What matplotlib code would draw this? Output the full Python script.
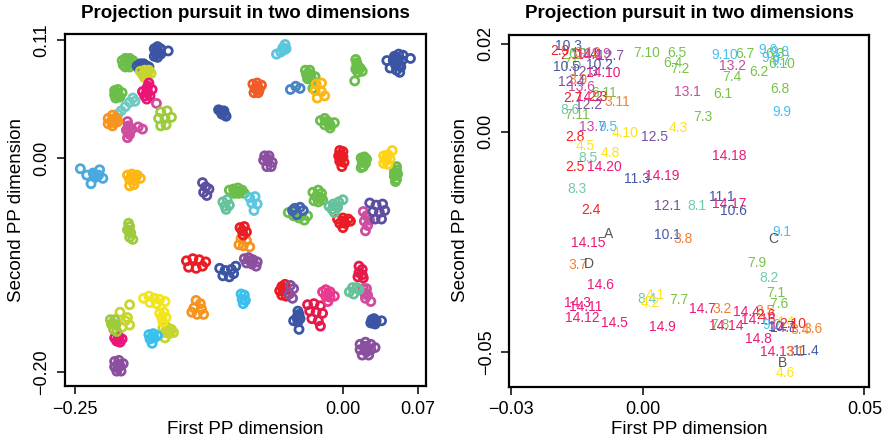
import matplotlib
matplotlib.use("Agg")
import matplotlib.pyplot as plt
import numpy as np

plt.rcParams['font.family'] = ['Liberation Sans', 'DejaVu Sans']

# ---------------- left panel: projected samples, grouped by colour ----------------
pts_blue = [
    (-0.176, 0.102), (-0.173, 0.104), (-0.170, 0.102), (-0.175, 0.099), (-0.172, 0.098), (-0.176, 0.095), (-0.173, 0.094),
    (-0.170, 0.097), (-0.163, 0.100), (-0.173, 0.100), (-0.174, 0.097),
    (-0.192, 0.086), (-0.189, 0.088), (-0.186, 0.088), (-0.183, 0.086), (-0.190, 0.083), (-0.187, 0.084), (-0.184, 0.083),
    (-0.181, 0.085), (-0.188, 0.086), (-0.185, 0.085),
    (-0.116, 0.045), (-0.114, 0.044), (-0.112, 0.042), (-0.110, 0.040), (-0.109, 0.039), (-0.113, 0.041), (-0.111, 0.044),
    (-0.112, 0.043),
    (0.041, 0.091), (0.063, 0.093), (0.044, 0.084), (0.048, 0.095), (0.052, 0.097), (0.056, 0.096), (0.047, 0.091),
    (0.051, 0.092), (0.055, 0.091), (0.049, 0.087), (0.053, 0.087), (0.050, 0.082), (0.053, 0.080),
    (0.051, 0.089), (0.050, 0.094), (0.054, 0.085),
    (-0.115, -0.103), (-0.110, -0.105), (-0.104, -0.104), (-0.100, -0.101), (-0.112, -0.110), (-0.106, -0.111), (-0.102, -0.108),
    (-0.042, -0.143), (-0.041, -0.146), (-0.043, -0.149), (-0.040, -0.150), (-0.042, -0.153), (-0.046, -0.152), (-0.041, -0.160),
    (-0.042, -0.147),
    (0.027, -0.151), (0.029, -0.150), (0.031, -0.152), (0.028, -0.154), (0.030, -0.155), (0.026, -0.154), (0.036, -0.152),
    (0.029, -0.152),
]
pts_green = [
    (-0.206, 0.091), (-0.203, 0.093), (-0.199, 0.093), (-0.196, 0.091), (-0.205, 0.087), (-0.201, 0.088), (-0.197, 0.088),
    (-0.203, 0.085), (-0.199, 0.085), (-0.201, 0.090), (-0.198, 0.090),
    (-0.213, 0.063), (-0.210, 0.064), (-0.213, 0.059), (-0.210, 0.060), (-0.212, 0.056), (-0.208, 0.057), (-0.206, 0.061),
    (-0.211, 0.061), (-0.210, 0.058),
    (0.012, 0.092), (0.013, 0.087), (0.016, 0.084), (0.012, 0.083), (0.018, 0.081), (0.014, 0.080), (0.011, 0.072),
    (0.014, 0.085), (0.013, 0.089),
    (-0.035, 0.082), (-0.031, 0.082), (-0.034, 0.078), (-0.030, 0.077), (-0.033, 0.074), (-0.029, 0.073), (-0.026, 0.076),
    (-0.028, 0.065), (-0.032, 0.079), (-0.031, 0.075),
    (-0.021, 0.035), (-0.017, 0.037), (-0.014, 0.034), (-0.017, 0.031), (-0.012, 0.031), (-0.008, 0.033), (-0.012, 0.028),
    (-0.015, 0.034), (-0.013, 0.032),
    (0.017, 0.000), (0.020, 0.001), (0.022, -0.001), (0.018, -0.004), (0.021, -0.005), (0.019, -0.008), (0.017, -0.009),
    (0.019, -0.002), (0.020, -0.004),
    (0.050, -0.008), (0.048, -0.013), (0.051, -0.015), (0.048, -0.017), (0.050, -0.020), (0.049, -0.022),
    (0.049, -0.016), (0.050, -0.011),
    (-0.106, -0.030), (-0.102, -0.029), (-0.098, -0.028), (-0.094, -0.030), (-0.101, -0.033), (-0.097, -0.033), (-0.092, -0.033),
    (-0.100, -0.031), (-0.096, -0.031),
    (-0.028, -0.032), (-0.023, -0.030), (-0.020, -0.033), (-0.025, -0.036), (-0.021, -0.037), (-0.027, -0.040),
    (-0.023, -0.041), (-0.019, -0.039),
    (-0.051, -0.051), (-0.046, -0.054), (-0.041, -0.056), (-0.036, -0.058), (-0.044, -0.050), (-0.033, -0.054),
]
pts_blue_mixed = [
    (-0.047, -0.049), (-0.040, -0.046), (-0.037, -0.049), (-0.043, -0.053), (-0.045, -0.047),
]
pts_yellowgreen = [
    (-0.189, 0.081), (-0.185, 0.082), (-0.181, 0.082), (-0.187, 0.078), (-0.183, 0.078), (-0.179, 0.079), (-0.185, 0.075),
    (-0.184, 0.080), (-0.182, 0.080),
    (-0.199, -0.137), (-0.208, -0.144), (-0.201, -0.149), (-0.199, -0.156), (-0.206, -0.158), (-0.203, -0.152),
    (-0.168, -0.159), (-0.164, -0.158), (-0.160, -0.160), (-0.166, -0.163), (-0.162, -0.164), (-0.158, -0.163), (-0.166, -0.168),
    (-0.163, -0.161), (-0.161, -0.162),
]
pts_pink = [
    (-0.181, 0.070), (-0.183, 0.065), (-0.187, 0.062), (-0.182, 0.061), (-0.185, 0.058), (-0.180, 0.058), (-0.183, 0.055),
    (-0.178, 0.064), (-0.183, 0.062), (-0.182, 0.067),
    (-0.213, -0.168), (-0.209, -0.167), (-0.206, -0.169), (-0.211, -0.171), (-0.208, -0.172), (-0.210, -0.169),
]
pts_magenta = [
    (-0.201, 0.034), (-0.200, 0.030), (-0.202, 0.026), (-0.199, 0.022), (-0.201, 0.019), (-0.197, 0.027), (-0.191, 0.029),
    (-0.187, 0.027), (-0.200, 0.028), (-0.200, 0.024),
    (-0.174, 0.051),
    (0.019, -0.050), (0.022, -0.054), (0.020, -0.059), (0.023, -0.063), (0.021, -0.068), (0.025, -0.058),
    (0.019, -0.122), (0.022, -0.122), (0.020, -0.126), (0.023, -0.128), (0.021, -0.131), (0.026, -0.134), (0.021, -0.127),
]
pts_teal = [
    (-0.196, 0.056), (-0.199, 0.052), (-0.203, 0.048), (-0.207, 0.044), (-0.210, 0.041), (-0.194, 0.053),
]
pts_orange = [
    (-0.219, 0.037), (-0.215, 0.040), (-0.211, 0.037), (-0.216, 0.034), (-0.213, 0.033), (-0.215, 0.030), (-0.219, 0.032),
    (-0.210, 0.034), (-0.215, 0.036), (-0.214, 0.035),
    (-0.137, -0.133), (-0.133, -0.136), (-0.139, -0.140), (-0.132, -0.141), (-0.136, -0.146), (-0.141, -0.144), (-0.130, -0.146),
    (-0.095, -0.075), (-0.090, -0.077), (-0.093, -0.082), (-0.087, -0.083), (-0.097, -0.081),
]
pts_lime = [
    (-0.170, 0.043), (-0.164, 0.044), (-0.172, 0.037), (-0.166, 0.037), (-0.160, 0.038), (-0.170, 0.030), (-0.165, 0.031),
    (-0.200, -0.061), (-0.199, -0.064), (-0.201, -0.067), (-0.198, -0.070), (-0.199, -0.074), (-0.196, -0.076),
    (-0.200, -0.068),
    (-0.217, -0.151), (-0.213, -0.151), (-0.216, -0.155), (-0.212, -0.156), (-0.214, -0.160), (-0.211, -0.162),
    (-0.214, -0.155),
]
pts_orangered = [
    (-0.084, 0.069), (-0.080, 0.070), (-0.076, 0.068), (-0.082, 0.065), (-0.078, 0.064), (-0.083, 0.061), (-0.079, 0.061),
    (-0.080, 0.066),
]
pts_midblue = [
    (-0.049, 0.064), (-0.044, 0.067), (-0.040, 0.065),
]
pts_cyan = [
    (-0.054, 0.106), (-0.056, 0.103), (-0.053, 0.102), (-0.058, 0.099), (-0.062, 0.097), (-0.055, 0.101),
    (-0.087, -0.037), (-0.082, -0.036), (-0.085, -0.042), (-0.080, -0.043), (-0.083, -0.049),
]
pts_amber = [
    (-0.025, 0.069), (-0.020, 0.070), (-0.026, 0.063), (-0.020, 0.062), (-0.024, 0.056), (-0.017, 0.058),
    (-0.201, -0.016), (-0.197, -0.015), (-0.192, -0.016), (-0.199, -0.020), (-0.194, -0.021), (-0.189, -0.019),
    (-0.199, -0.026), (-0.195, -0.025), (-0.196, -0.018), (-0.194, -0.018),
]
pts_red = [
    (-0.003, 0.007), (0.000, 0.006), (-0.004, 0.002), (0.000, 0.001), (-0.003, -0.003), (-0.001, -0.008), (0.001, -0.004),
    (-0.002, 0.003), (-0.002, -0.001),
    (-0.096, -0.065), (-0.092, -0.064), (-0.094, -0.068), (-0.090, -0.069), (-0.093, -0.072),
    (-0.146, -0.096), (-0.140, -0.094), (-0.134, -0.095), (-0.128, -0.097), (-0.144, -0.102), (-0.137, -0.103), (-0.131, -0.101),
    (-0.005, -0.057), (0.000, -0.056), (0.005, -0.057), (-0.003, -0.061), (0.002, -0.061), (0.007, -0.059), (0.000, -0.065),
    (0.001, -0.059),
    (-0.057, -0.120), (-0.054, -0.118), (-0.059, -0.124), (-0.055, -0.124), (-0.057, -0.128), (-0.053, -0.129),
    (-0.056, -0.122),
]
pts_crimson = [
    (0.015, -0.101), (0.018, -0.104), (0.015, -0.107), (0.018, -0.109), (0.014, -0.111), (0.019, -0.112),
    (-0.033, -0.137), (-0.027, -0.136), (-0.021, -0.138), (-0.031, -0.143), (-0.025, -0.144), (-0.019, -0.145),
    (-0.029, -0.150), (-0.023, -0.152), (-0.021, -0.157),
]
pts_purple = [
    (-0.073, 0.002), (-0.069, 0.002), (-0.074, -0.002), (-0.070, -0.003), (-0.066, -0.004), (-0.071, -0.008), (-0.067, -0.008),
    (-0.070, -0.001),
    (-0.092, -0.094), (-0.088, -0.093), (-0.084, -0.095), (-0.080, -0.097), (-0.090, -0.098), (-0.085, -0.099), (-0.081, -0.101),
    (-0.086, -0.096),
    (0.016, -0.174), (0.021, -0.172), (0.026, -0.174), (0.016, -0.179), (0.021, -0.179), (0.026, -0.179), (0.030, -0.177),
    (0.018, -0.184), (0.024, -0.184), (0.021, -0.176), (0.022, -0.181),
    (-0.213, -0.190), (-0.209, -0.189), (-0.213, -0.195), (-0.208, -0.194), (-0.205, -0.192), (-0.211, -0.199), (-0.207, -0.199),
    (-0.210, -0.193), (-0.210, -0.196),
    (-0.049, -0.119), (-0.046, -0.122), (-0.050, -0.127), (-0.047, -0.131),
]
pts_indigo = [
    (-0.131, -0.023), (-0.128, -0.027), (-0.130, -0.032), (-0.127, -0.035), (-0.125, -0.029),
    (0.025, -0.042), (0.031, -0.044), (0.037, -0.043), (0.028, -0.050), (0.034, -0.051), (0.039, -0.049),
    (0.030, -0.057), (0.036, -0.057),
]
pts_gold = [
    (0.038, 0.002), (0.042, 0.003), (0.046, 0.007), (0.040, -0.002), (0.044, -0.001), (0.038, -0.005), (0.042, -0.006),
    (0.041, 0.001),
]
pts_yellow = [
    (-0.186, -0.131), (-0.181, -0.129), (-0.176, -0.131), (-0.171, -0.132), (-0.166, -0.134), (-0.180, -0.135), (-0.174, -0.136),
    (-0.171, -0.145), (-0.167, -0.144), (-0.169, -0.149), (-0.165, -0.149), (-0.168, -0.153),
]
pts_skyblue = [
    (-0.095, -0.127), (-0.092, -0.128), (-0.094, -0.132), (-0.091, -0.133), (-0.093, -0.136),
    (-0.181, -0.165), (-0.177, -0.164), (-0.180, -0.169), (-0.176, -0.168), (-0.178, -0.173), (-0.173, -0.166),
    (-0.178, -0.167),
]
pts_steelblue = [
    (-0.245, -0.010), (-0.227, -0.011), (-0.239, -0.016), (-0.235, -0.024), (-0.224, -0.019), (-0.232, -0.016), (-0.228, -0.016),
    (-0.233, -0.014), (-0.231, -0.018),
]
pts_tealgreen = [
    (-0.112, -0.041), (-0.108, -0.039), (-0.110, -0.045), (-0.106, -0.044), (-0.109, -0.048),
    (-0.013, -0.045), (-0.009, -0.043), (-0.004, -0.041), (0.000, -0.039), (-0.010, -0.048), (-0.005, -0.046), (-0.008, -0.051),
    (-0.007, -0.045),
    (0.006, -0.125), (0.009, -0.121), (0.013, -0.121), (0.015, -0.123), (0.010, -0.127),
]
pts_hotpink = [
    (-0.019, -0.125), (-0.016, -0.123), (-0.012, -0.125), (-0.016, -0.129), (-0.012, -0.130), (-0.008, -0.129), (-0.014, -0.134),
    (-0.014, -0.127),
]

left_groups = [
    (pts_green, '#6BBE4A'), (pts_blue, '#3B55A4'), (pts_blue_mixed, '#4163B0'),
    (pts_yellowgreen, '#C6D52F'), (pts_pink, '#EC1577'), (pts_magenta, '#CF4D9E'),
    (pts_teal, '#6FCBC2'), (pts_orange, '#F7941D'), (pts_lime, '#9DCB3C'),
    (pts_orangered, '#F15A29'), (pts_midblue, '#4A84C4'), (pts_cyan, '#5CC6E0'),
    (pts_amber, '#FDB714'), (pts_red, '#EC1C24'), (pts_crimson, '#E6194B'),
    (pts_purple, '#8A4F9E'), (pts_indigo, '#5E4EA0'), (pts_gold, '#FFD21A'),
    (pts_yellow, '#F2E41D'), (pts_skyblue, '#3BBFEC'), (pts_steelblue, '#4AA9DE'),
    (pts_tealgreen, '#66C29B'), (pts_hotpink, '#E83A8E'),
]

# ---------------- right panel: labelled projection ----------------
label_text = [
    "10.3", "2.9", "2.1", "10.4", "6.9", "3.10", "14.1", "13.9", "12.7",
    "7.5", "10.5", "10.2", "14.10", "12.3", "3.9", "12.4", "13.6", "6.11",
    "2.3", "14.2", "2.7", "3.11", "12.2", "8.6", "7.11",
    "13.7", "9.5", "4.10", "12.5", "4.3", "2.8", "4.5", "4.8", "8.5",
    "2.5", "14.20", "11.3", "14.19", "8.3", "2.4", "12.1", "8.1", "11.1",
    "14.17", "10.6", "A", "14.15", "10.1", "3.8", "9.1", "C", "3.7", "D",
    "7.9", "8.2", "14.6", "7.1", "14.3", "14.11", "14.12", "14.5", "8.4",
    "4.1", "4.2", "7.7", "14.9", "14.7", "3.2", "7.6", "14.4", "3.5",
    "7.8", "14.14", "14.16", "2.6", "9.2", "4.4", "14.1", "10.7", "2.10",
    "3.4", "3.6", "14.8", "14.13", "3.1", "11.4", "B", "4.6",
    "7.10", "6.5", "6.4", "7.2", "9.10", "6.7", "13.2", "7.4", "6.2",
    "13.1", "6.1", "6.8", "7.3", "9.9", "14.18",
    "9.6", "9.8", "6.3", "9.3", "9.7", "6.10",
]
label_x = [
    -0.0170, -0.0188, -0.0166, -0.0134, -0.0148, -0.0125, -0.0121, -0.0105, -0.0075,
    -0.0162, -0.0173, -0.0098, -0.0091, -0.0132, -0.0148, -0.0162, -0.0139, -0.0089,
    -0.0103, -0.0121, -0.0159, -0.0060, -0.0125, -0.0166, -0.0150,
    -0.0116, -0.0080, -0.0041, 0.0026, 0.0079, -0.0155, -0.0132, -0.0075, -0.0125,
    -0.0155, -0.0087, -0.0014, 0.0042, -0.0150, -0.0118, 0.0054, 0.0121, 0.0178,
    0.0194, 0.0203, -0.0078, -0.0125, 0.0054, 0.0090, 0.0314, 0.0293, -0.0148, -0.0123,
    0.0257, 0.0284, -0.0096, 0.0300, -0.0148, -0.0130, -0.0137, -0.0066, 0.0008,
    0.0026, 0.0015, 0.0081, 0.0044, 0.0133, 0.0178, 0.0307, 0.0234, 0.0275,
    0.0173, 0.0187, 0.0260, 0.0278, 0.0291, 0.0320, 0.0316, 0.0312, 0.0339,
    0.0354, 0.0384, 0.0260, 0.0302, 0.0343, 0.0368, 0.0316, 0.0320,
    0.0008, 0.0076, 0.0067, 0.0083, 0.0185, 0.0230, 0.0201, 0.0201, 0.0262,
    0.0099, 0.0180, 0.0309, 0.0135, 0.0314, 0.0194,
    0.0282, 0.0309, 0.0298, 0.0289, 0.0312, 0.0312,
]
label_y = [
    0.0194, 0.0183, 0.0174, 0.0176, 0.0176, 0.0178, 0.0174, 0.0176, 0.0172,
    0.0153, 0.0147, 0.0151, 0.0133, 0.0135, 0.0117, 0.0113, 0.0101, 0.0088,
    0.0079, 0.0079, 0.0076, 0.0067, 0.0060, 0.0049, 0.0038,
    0.0011, 0.0011, -0.0003, -0.0012, 0.0008, -0.0012, -0.0032, -0.0048, -0.0060,
    -0.0080, -0.0080, -0.0107, -0.0100, -0.0130, -0.0178, -0.0168, -0.0168, -0.0148,
    -0.0164, -0.0180, -0.0232, -0.0252, -0.0234, -0.0243, -0.0227, -0.0243, -0.0302, -0.0300,
    -0.0298, -0.0332, -0.0348, -0.0366, -0.0389, -0.0398, -0.0422, -0.0434, -0.0380,
    -0.0371, -0.0389, -0.0382, -0.0443, -0.0402, -0.0402, -0.0391, -0.0409, -0.0407,
    -0.0438, -0.0440, -0.0426, -0.0416, -0.0438, -0.0431, -0.0445, -0.0443, -0.0436,
    -0.0450, -0.0448, -0.0470, -0.0500, -0.0500, -0.0497, -0.0524, -0.0547,
    0.0178, 0.0178, 0.0156, 0.0142, 0.0174, 0.0176, 0.0149, 0.0124, 0.0135,
    0.0090, 0.0085, 0.0097, 0.0033, 0.0045, -0.0055,
    0.0185, 0.0181, 0.0176, 0.0167, 0.0160, 0.0153,
]

group_colours = {
    2: '#EF2229', 3: '#F5812F', 4: '#FFE31A', 6: '#79C24A', 7: '#79C24A',
    8: '#6ECBA6', 9: '#4BBEEE', 10: '#4658A7', 11: '#4658A7', 12: '#7C52A2',
    13: '#C84B9E', 14: '#EC1A78',
}
letter_colour = '#555555'

# ---------------- figure ----------------
W, H = 889, 445
fig = plt.figure(figsize=(W / 100, H / 100), dpi=100)
axL = fig.add_axes([65 / W, 1 - 386 / H, 361 / W, 352 / H])
axR = fig.add_axes([509.3 / W, 1 - 386.7 / H, 359.7 / W, 352 / H])

for pts, col in left_groups:
    arr = np.array(pts)
    axL.scatter(arr[:, 0], arr[:, 1], s=34, facecolors='none', edgecolors=col, linewidths=2.0)

axL.set_xlim(-0.2593, 0.0775)
axL.set_ylim(-0.2129, 0.1158)

for t, x, y in zip(label_text, label_x, label_y):
    if t[0].isdigit():
        col = group_colours[int(t.split('.')[0])]
    else:
        col = letter_colour
    axR.text(x, y, t, color=col, fontsize=10, ha='center', va='center')

axR.set_xlim(-0.03032, 0.05106)
axR.set_ylim(-0.05782, 0.02200)

def style(ax, xt, xl, yt, yl):
    ax.set_xticks(xt)
    ax.set_xticklabels(xl)
    ax.set_yticks(yt)
    ax.set_yticklabels(yl, rotation=90, va='center')
    ax.tick_params(direction='out', length=5.5, width=1.1, labelsize=13, pad=5)
    for sp in ax.spines.values():
        sp.set_linewidth(1.6)

style(axL, [-0.25, 0.0, 0.07], ['\u22120.25', '0.00', '0.07'],
      [-0.20, 0.0, 0.11], ['\u22120.20', '0.00', '0.11'])
style(axR, [-0.03, 0.0, 0.05], ['\u22120.03', '0.00', '0.05'],
      [-0.05, 0.0, 0.02], ['\u22120.05', '0.00', '0.02'])

for ax in (axL, axR):
    pos = ax.get_position()
    cx = (pos.x0 + pos.x1) / 2
    fig.text(cx, 1 - 13 / H, 'Projection pursuit in two dimensions',
             ha='center', va='center', fontsize=13.5, fontweight='bold')
    fig.text(cx, 1 - 430 / H, 'First PP dimension', ha='center', va='center', fontsize=13.5)

fig.text(17 / W, (1 - 386 / H + 1 - 34 / H) / 2, 'Second PP dimension',
         rotation=90, ha='center', va='center', fontsize=13.5)
fig.text(460 / W, (1 - 386 / H + 1 - 34 / H) / 2, 'Second PP dimension',
         rotation=90, ha='center', va='center', fontsize=13.5)

fig.savefig('out.png', dpi=100)
